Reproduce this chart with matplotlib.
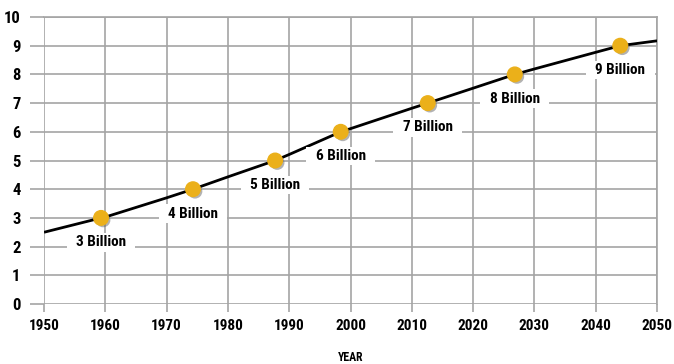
import matplotlib
matplotlib.use('Agg')
import matplotlib.pyplot as plt
import matplotlib.patheffects as pe

plt.rcParams['font.family'] = ['Roboto Condensed', 'Archivo Narrow', 'DejaVu Sans']

# population curve (billions)
curve_years = [1950, 1959.3, 1960, 1970, 1974.3, 1980, 1987.7, 1990, 1998.4,
               2000, 2010, 2012.6, 2020, 2026.8, 2030, 2040, 2044, 2050]
curve_pop = [2.50, 3.0, 3.03, 3.70, 4.0, 4.43, 5.0, 5.21, 6.0,
             6.11, 6.82, 7.0, 7.52, 8.0, 8.19, 8.77, 9.0, 9.17]

# milestone markers
mile_years = [1959.3, 1974.3, 1987.7, 1998.4, 2012.6, 2026.8, 2044]
mile_pop = [3, 4, 5, 6, 7, 8, 9]
mile_labels = ['3 Billion', '4 Billion', '5 Billion', '6 Billion',
               '7 Billion', '8 Billion', '9 Billion']

x_ticks = list(range(1950, 2051, 10))
y_ticks = list(range(0, 11))

fig = plt.figure(figsize=(6.74, 3.64), dpi=100)
ax = fig.add_axes([0.0653, 0.1648, 0.9095, 0.7885])

grid_col = '#a4a4a4'
ax.set_xlim(1950, 2050)
ax.set_ylim(0, 10)
ax.set_xticks(x_ticks)
ax.set_yticks(y_ticks)
ax.grid(True, color=grid_col, lw=1.2, zorder=0)
for s in ax.spines.values():
    s.set_color(grid_col)
    s.set_linewidth(1.2)
ax.spines['left'].set_visible(False)
ax.spines['bottom'].set_visible(False)
ax.tick_params(axis='x', length=6, width=1.2, color=grid_col, pad=5,
               labelsize=11)
ax.tick_params(axis='y', length=10, width=1.2, color=grid_col, pad=7,
               labelsize=12)
for lab in ax.get_xticklabels() + ax.get_yticklabels():
    lab.set_fontweight('semibold')

ax.plot(curve_years, curve_pop, color='black', lw=2.0, zorder=3,
        solid_capstyle='butt')

ax.plot(mile_years, mile_pop, ls='none', marker='o', ms=10.5,
        markerfacecolor='#EBB01A', markeredgecolor='#EBB01A', zorder=4,
        path_effects=[pe.SimplePatchShadow(offset=(1.5, -1.5), shadow_rgbFace='#666666',
                                           alpha=0.5), pe.Normal()])

for xv, yv, lab in zip(mile_years, mile_pop, mile_labels):
    ax.annotate(f'  {lab}  ', (xv, yv), xytext=(0, -17.5), textcoords='offset points',
                ha='center', va='center', fontsize=11, fontweight='semibold', zorder=5,
                bbox=dict(boxstyle='square,pad=0.15', fc='white', ec='none'))

ax.set_xlabel('YEAR', fontsize=8.5, fontweight='bold', labelpad=13)

fig.savefig('out.png', dpi=100)
